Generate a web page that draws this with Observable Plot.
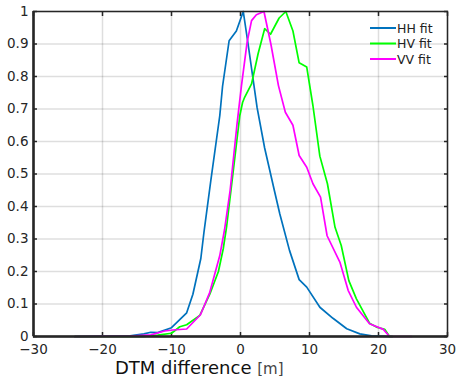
<!DOCTYPE html>
<html>
<head>
<meta charset="utf-8">
<script src="https://cdn.jsdelivr.net/npm/d3@7"></script>
<script src="https://cdn.jsdelivr.net/npm/@observablehq/plot@0.6"></script>
<style>
  html, body { margin: 0; padding: 0; background: #fff; }
  #chart { width: 458px; height: 376px; }
</style>
</head>
<body>
<div id="chart"></div>
<script>
// Series values: [DTM difference (m), normalized fit]
const hhFit = [[-24,0],[-16,0.002],[-14,0.008],[-13,0.013],[-12,0.012],[-10,0.027],[-7.8,0.073],[-6.9,0.13],[-5.75,0.24],[-5.3,0.32],[-4.3,0.48],[-3,0.68],[-2.6,0.77],[-1.65,0.91],[-0.6,0.94],[0.4,1.0],[1.1,0.9],[2.4,0.705],[3.5,0.58],[4.9,0.45],[5.7,0.377],[7.1,0.265],[8.5,0.175],[9.6,0.152],[11.5,0.09],[13.4,0.056],[15.4,0.024],[17.3,0.008],[19,0.002],[22,0]];
const hvFit = [[-24,0],[-14,0],[-12,0.004],[-10,0.01],[-8.8,0.03],[-7.8,0.036],[-5.9,0.065],[-4.45,0.13],[-3.2,0.2],[-2.5,0.27],[-2.0,0.34],[-1.1,0.5],[-0.1,0.68],[0.3,0.72],[0.6,0.736],[1.6,0.777],[2.55,0.87],[3.5,0.947],[4.35,0.93],[5.6,0.98],[6.57,1.0],[7.6,0.94],[8.5,0.842],[9.6,0.829],[10.5,0.71],[11.5,0.555],[12.6,0.47],[13.7,0.336],[14.6,0.28],[15.7,0.172],[16.8,0.116],[18.7,0.041],[19.7,0.029],[20.9,0.022],[21.6,0],[22,0]];
const vvFit = [[-24,0],[-16,0.001],[-13,0.005],[-11,0.017],[-9.8,0.02],[-7.8,0.023],[-5.8,0.067],[-4.45,0.136],[-3.0,0.249],[-2.3,0.33],[-1.5,0.45],[-0.5,0.654],[0.14,0.772],[0.96,0.906],[1.6,0.972],[2.3,0.99],[3.4,1.0],[4.4,0.9],[5.5,0.772],[6.5,0.69],[7.6,0.65],[8.5,0.557],[9.6,0.521],[10.5,0.47],[11.6,0.429],[12.55,0.31],[14.4,0.229],[15.6,0.142],[16.8,0.09],[18.7,0.039],[20.7,0.022],[21.6,0],[24.8,0]];

const seriesNames = ["HH fit", "HV fit", "VV fit"];
const seriesColors = ["#0072BD", "#00FF00", "#FF00FF"];
const seriesData = [hhFit, hvFit, vvFit];

const xTicks = [-30, -20, -10, 0, 10, 20, 30];
const yTicks = [0, 0.1, 0.2, 0.3, 0.4, 0.5, 0.6, 0.7, 0.8, 0.9, 1];
const yTickLabels = ["0", "0.1", "0.2", "0.3", "0.4", "0.5", "0.6", "0.7", "0.8", "0.9", "1"];
const xLabelMain = "DTM difference";
const xLabelUnit = "[m]";

const W = 458, H = 376;
const mL = 33, mR = 11, mT = 11, mB = 40;

const lineMarks = seriesData.map((d, i) =>
  Plot.line(d, {x: d => d[0], y: d => d[1], stroke: seriesColors[i], strokeWidth: 1.7})
);

const plot = Plot.plot({
  width: W,
  height: H,
  marginLeft: mL,
  marginRight: mR,
  marginTop: mT,
  marginBottom: mB,
  style: {fontFamily: "DejaVu Sans", fontSize: "13.5px", color: "#262626", background: "#fff"},
  x: {domain: [-30, 30]},
  y: {domain: [0, 1]},
  marks: [
    Plot.gridX(xTicks, {stroke: "#000", strokeOpacity: 0.13, strokeWidth: 1.5}),
    Plot.gridY(yTicks, {stroke: "#000", strokeOpacity: 0.13, strokeWidth: 1.5}),
    Plot.axisX(xTicks, {anchor: "bottom", tickSize: 0, tickPadding: 8, label: null, fill: "#262626", fontSize: 13.5}),
    Plot.axisY(yTicks, {anchor: "left", tickSize: 0, tickPadding: 5, label: null, fill: "#262626", fontSize: 13.5,
      tickFormat: (d) => yTickLabels[yTicks.indexOf(d)]}),
    Plot.axisX(xTicks, {anchor: "bottom", tickSize: -4, text: null, label: null, stroke: "#262626", strokeWidth: 1.5}),
    Plot.axisX(xTicks, {anchor: "top", tickSize: -4, text: null, label: null, stroke: "#262626", strokeWidth: 1.5}),
    Plot.axisY(yTicks, {anchor: "left", tickSize: -4, text: null, label: null, stroke: "#262626", strokeWidth: 1.5}),
    Plot.axisY(yTicks, {anchor: "right", tickSize: -4, text: null, label: null, stroke: "#262626", strokeWidth: 1.5}),
    ...lineMarks,
    Plot.frame({stroke: "#262626", strokeWidth: 1.5}),
    Plot.ruleX([-30], {stroke: "#262626", strokeWidth: 2.5}),
    Plot.ruleY([0], {stroke: "#262626", strokeWidth: 2.5})
  ]
});

document.getElementById("chart").appendChild(plot);

// axis label and legend (non-data overlays)
const svg = d3.select(plot);
const lab = svg.append("text")
  .attr("x", 115)
  .attr("y", 373.5)
  .attr("text-anchor", "start")
  .style("font-family", "DejaVu Sans")
  .style("fill", "#111");
lab.append("tspan").style("font-size", "18px").text(xLabelMain + " ");
lab.append("tspan").style("font-size", "15px").style("fill", "#444").text(xLabelUnit);

const leg = svg.append("g").attr("text-anchor", "start");
seriesNames.forEach((name, i) => {
  const y = 28 + i * 15.5;
  leg.append("line").attr("x1", 370).attr("x2", 396).attr("y1", y).attr("y2", y)
    .attr("stroke", seriesColors[i]).attr("stroke-width", 2);
  leg.append("text").attr("x", 397).attr("y", y).attr("dy", "0.36em")
    .attr("text-anchor", "start")
    .style("font-family", "DejaVu Sans").style("font-size", "12.5px").style("fill", "#222")
    .text(name);
});
</script>
</body>
</html>
